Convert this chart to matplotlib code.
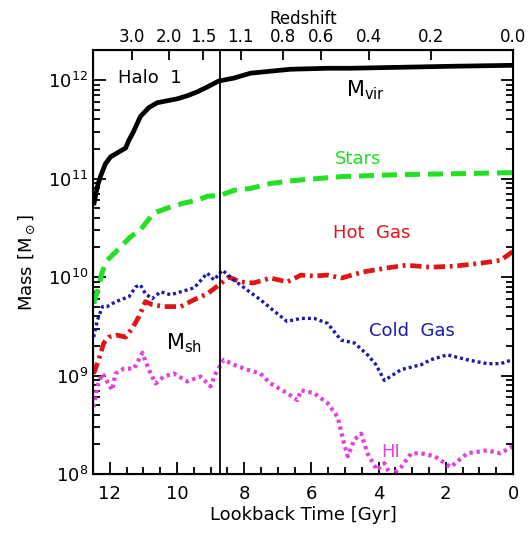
import numpy as np
import matplotlib
matplotlib.use("Agg")
import matplotlib.pyplot as plt

plt.rcParams['font.family'] = ['DejaVu Sans']

# lookback time [Gyr] and log10 mass [Msun]
t_vir = [12.48, 12.37, 12.28, 12.13, 11.98, 11.78, 11.53, 11.43, 11.29, 11.09,
         10.84, 10.59, 10.29, 9.99, 9.70, 9.40, 9.10, 8.76, 8.31, 7.81,
         7.22, 6.62, 5.5, 4.84, 3.35, 1.86, 0.0]
m_vir = [10.73, 10.92, 11.02, 11.15, 11.22, 11.26, 11.31, 11.39, 11.48, 11.63,
         11.72, 11.77, 11.79, 11.81, 11.84, 11.88, 11.93, 11.99, 12.02, 12.07,
         12.09, 12.11, 12.12, 12.12, 12.13, 12.14, 12.15]

t_star = [12.48, 12.33, 12.23, 12.08, 11.78, 11.38, 11.09, 10.69, 10.29, 9.81,
          9.40, 9.10, 8.71, 8.31, 7.81, 7.22, 6.52, 5.1, 3.35, 1.56, 0.0]
m_star = [9.73, 9.90, 10.05, 10.17, 10.27, 10.41, 10.48, 10.65, 10.70, 10.75,
          10.78, 10.82, 10.83, 10.88, 10.90, 10.95, 10.98, 11.02, 11.04, 11.05, 11.06]

t_hot = [12.48, 12.33, 12.18, 12.03, 11.78, 11.53, 11.33, 11.13, 10.94, 10.74,
         10.39, 9.89, 9.49, 9.10, 8.75, 8.46, 8.11, 7.72, 7.22, 6.72,
         6.31, 5.92, 5.53, 5.10, 4.49, 3.80, 3.18, 2.45, 1.76, 0.97, 0.37, 0.0]
m_hot = [9.02, 9.16, 9.33, 9.39, 9.41, 9.39, 9.48, 9.60, 9.75, 9.72,
         9.70, 9.70, 9.77, 9.83, 9.92, 10.00, 9.95, 9.94, 9.99, 9.95,
         10.02, 10.01, 10.02, 9.99, 10.05, 10.09, 10.12, 10.10, 10.11, 10.14, 10.17, 10.26]

t_cold = [12.48, 12.37, 12.22, 12.08, 11.93, 11.68, 11.43, 11.23, 11.09, 10.94,
          10.74, 10.49, 10.19, 9.89, 9.49, 9.10, 8.90, 8.65, 8.31, 7.92,
          7.52, 7.13, 6.73, 6.31, 5.92, 5.52, 5.12, 4.72, 4.33, 4.08, 3.83,
          3.33, 2.73, 2.45, 1.96, 1.36, 0.77, 0.37, 0.02]
m_cold = [9.39, 9.56, 9.70, 9.70, 9.73, 9.77, 9.80, 9.90, 9.92, 9.83,
          9.78, 9.85, 9.82, 9.85, 9.89, 10.04, 9.97, 10.07, 9.97, 9.87,
          9.77, 9.66, 9.55, 9.58, 9.58, 9.53, 9.36, 9.33, 9.21, 9.11, 8.95,
          9.06, 9.11, 9.16, 9.21, 9.16, 9.12, 9.12, 9.16]

t_hi = [12.48, 12.37, 12.22, 12.08, 11.93, 11.83, 11.58, 11.28, 11.03, 10.84,
        10.64, 10.39, 10.09, 9.70, 9.30, 9.00, 8.85, 8.61, 8.31, 7.92,
        7.52, 7.22, 6.72, 6.42, 6.31, 5.92, 5.52, 5.22, 5.03, 4.92, 4.72,
        4.52, 4.33, 4.05, 3.83, 3.63, 3.33, 3.03, 2.73, 2.33, 1.86, 1.36, 0.77, 0.37, 0.02]
m_hi = [8.68, 8.89, 9.02, 8.94, 8.85, 9.02, 9.07, 9.07, 9.23, 9.06,
        8.92, 8.99, 9.02, 8.94, 8.99, 8.89, 9.02, 9.16, 9.11, 9.06,
        9.02, 8.92, 8.82, 8.75, 8.85, 8.82, 8.72, 8.58, 8.31, 8.18, 8.35,
        8.41, 8.21, 8.04, 8.11, 7.98, 8.07, 8.21, 8.21, 8.18, 8.07, 8.21, 8.24, 8.21, 8.28]

# redshift ticks on the top axis and their lookback times
z_labels = ['3.0', '2.0', '1.5', '1.1', '0.8', '0.6', '0.4', '0.2', '0.0']
z_times = [11.33, 10.24, 9.22, 8.11, 6.85, 5.71, 4.29, 2.43, 0.0]

t_mark = 8.73  # vertical line

fig = plt.figure(figsize=(5.30, 5.36), dpi=100)
ax = fig.add_axes([0.1755, 0.1157, 0.7925, 0.791])

ax.plot(t_vir, 10**np.array(m_vir), color='black', lw=3.4, solid_capstyle='butt')
ax.plot(t_star, 10**np.array(m_star), color='#22e022', lw=3.6, ls=(0, (3.0, 1.6)))
ax.plot(t_hot, 10**np.array(m_hot), color='#e01515', lw=3.4, ls=(0, (2.4, 1.0, 0.6, 1.0)))
ax.plot(t_cold, 10**np.array(m_cold), color='#1a1aa8', lw=2.4, ls=(0, (0.9, 0.9)))
ax.plot(t_hi, 10**np.array(m_hi), color='#e040e0', lw=3.0, ls=(0, (0.8, 0.9)))
ax.axvline(t_mark, color='black', lw=1.3)

ax.set_yscale('log')
ax.set_xlim(12.5, 0)
ax.set_ylim(1e8, 2.02e12)
ax.set_xticks([12, 10, 8, 6, 4, 2, 0])
ax.set_xticks(np.arange(0, 12.6, 0.5), minor=True)
ax.tick_params(which='both', direction='in', top=False, right=True, labelsize=13, width=1.3)
ax.tick_params(which='major', length=9)
ax.tick_params(which='minor', length=5)
ax.tick_params(axis='x', pad=8)
for s in ax.spines.values():
    s.set_linewidth(1.5)

ax.set_xlabel('Lookback Time [Gyr]', fontsize=13, labelpad=2)
ax.set_ylabel(r'Mass [M$_\odot$]', fontsize=13, labelpad=8)

top = ax.twiny()
top.set_xlim(ax.get_xlim())
top.set_xticks(z_times)
top.set_xticklabels(z_labels)
top.xaxis.set_minor_locator(matplotlib.ticker.NullLocator())
top.tick_params(direction='in', length=7, width=1.3, labelsize=12, pad=3)
top.set_xlabel('Redshift', fontsize=12, labelpad=3)

ax.text(10.8, 10**12.02, 'Halo  1', fontsize=13, ha='center', va='center')
ax.text(4.4, 10**11.9, r'M$_{\rm vir}$', fontsize=15, ha='center', va='center')
ax.text(4.6, 10**11.2, 'Stars', fontsize=13, ha='center', va='center', color='#22e022')
ax.text(4.2, 10**10.45, 'Hot  Gas', fontsize=13, ha='center', va='center', color='#e01515')
ax.text(3.0, 10**9.45, 'Cold  Gas', fontsize=13, ha='center', va='center', color='#1a1aa8')
ax.text(9.8, 10**9.33, r'M$_{\rm sh}$', fontsize=15, ha='center', va='center')
ax.text(3.65, 10**8.22, 'HI', fontsize=13, ha='center', va='center', color='#e040e0')

fig.savefig('out.png', dpi=100)
